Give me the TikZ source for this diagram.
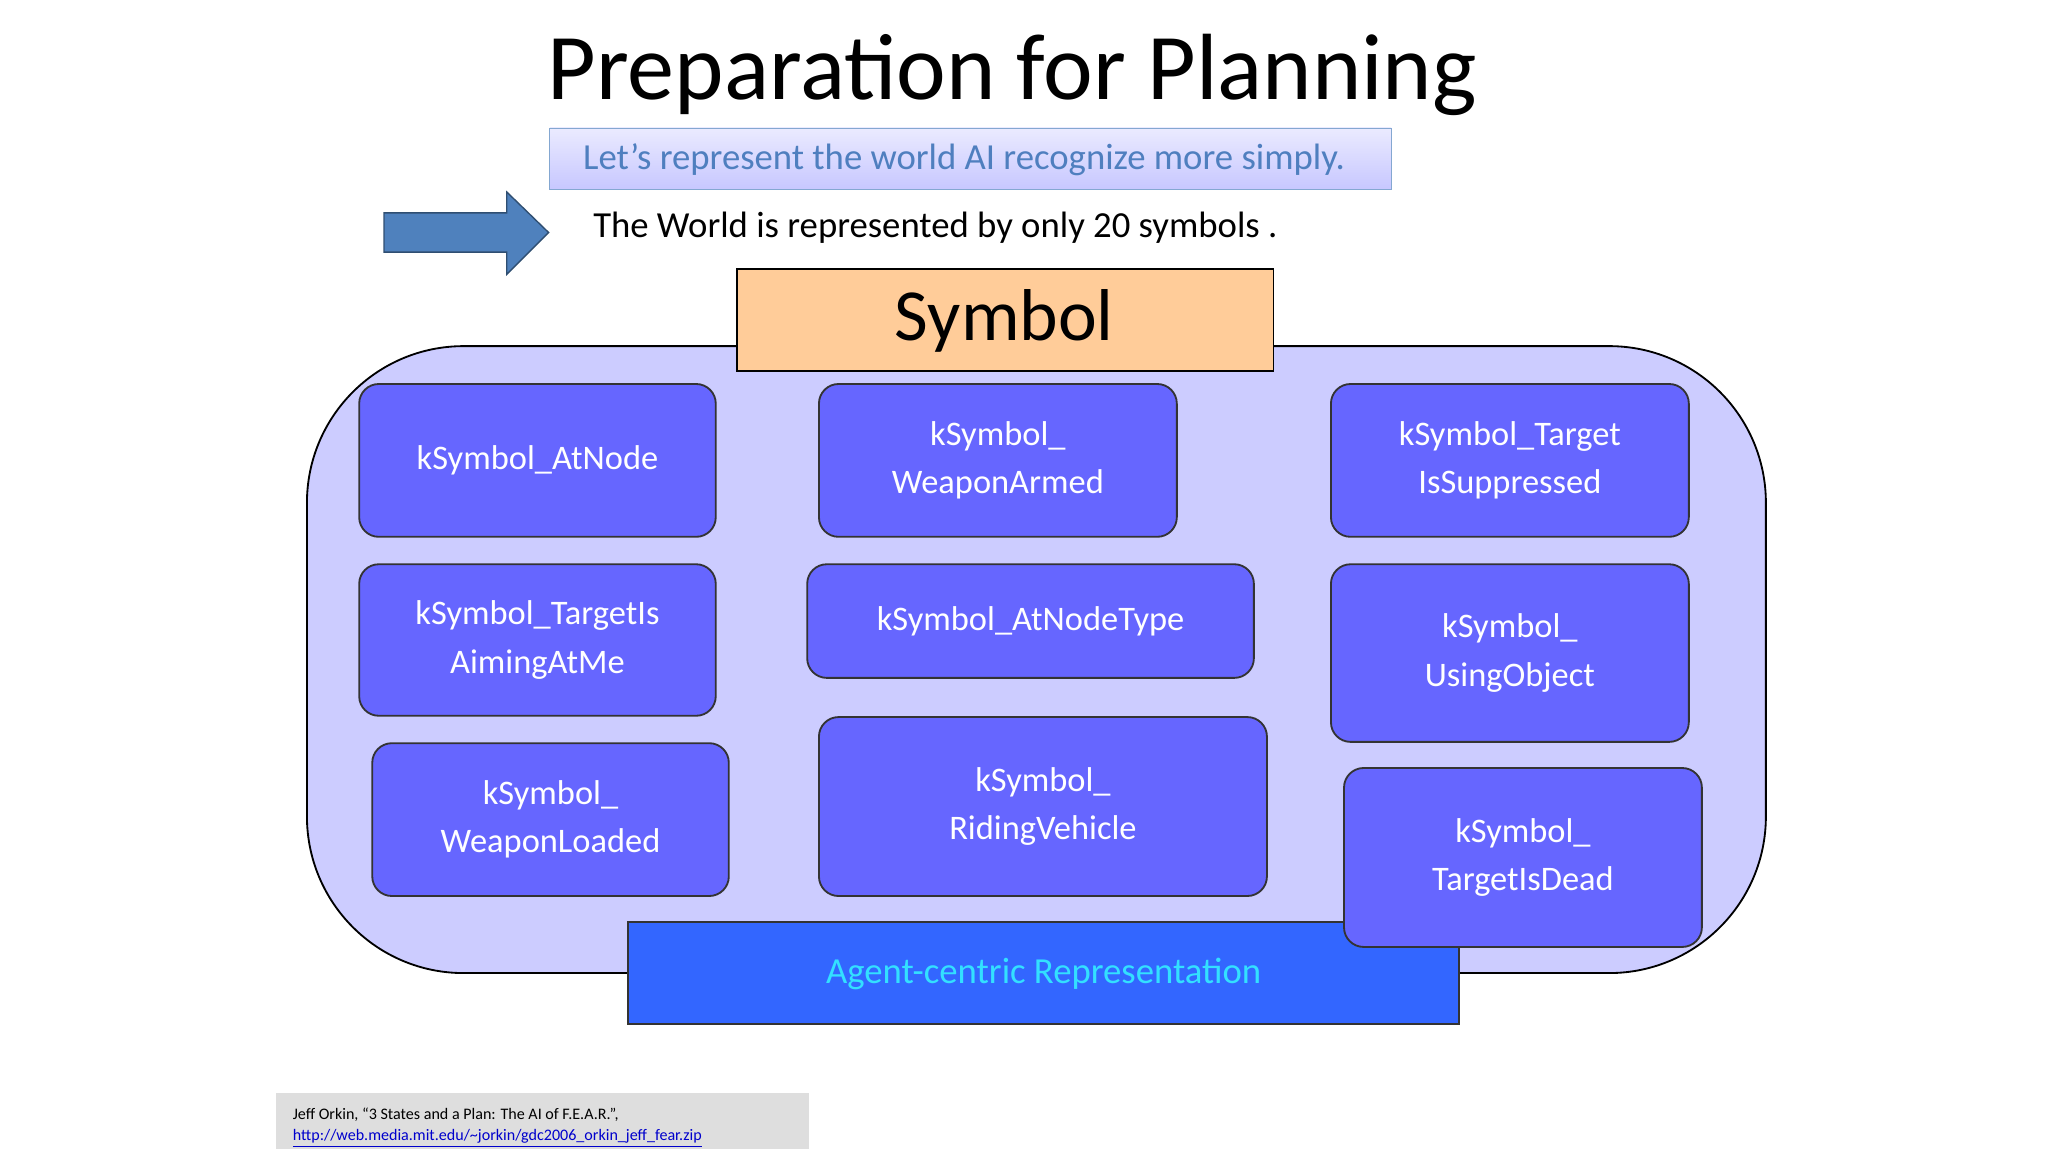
\documentclass[tikz,border=0pt]{standalone}
\usepackage{fontspec}
\setmainfont{Carlito}
\usetikzlibrary{shapes.arrows}
\definecolor{lav}{HTML}{CCCCFF}
\definecolor{sym}{HTML}{FFCC99}
\definecolor{kbox}{HTML}{6666FF}
\definecolor{agent}{HTML}{3366FF}
\definecolor{agtxt}{HTML}{33E0FF}
\definecolor{arr}{HTML}{4F81BD}
\definecolor{subtxt}{HTML}{4F7FBF}
\tikzset{
 kb/.style={draw=black!80, fill=kbox, rounded corners=0.3cm, line width=0.8pt},
 kt/.style={text=white, align=center, font=\fontsize{15}{21}\selectfont},
}
\newcommand{\kbx}[6]{\draw[kb] (#2,#3) rectangle (#4,#5); \node[kt] (#1) at ({(#2+#4)/2},{(#3+#5)/2}) {#6};}
\begin{document}
\begin{tikzpicture}[x=0.02cm,y=-0.02cm]
\useasboundingbox[fill=white] (0,0) rectangle (1568,882);
\node (title) at (775,57) {\fontsize{41}{45}\selectfont Preparation for Planning};
\draw[draw=arr!70, top color=blue!8, bottom color=blue!22] (421,98) rectangle (1065,145);
\node[text=subtxt] (sub) at (738,122) {\fontsize{16}{19}\selectfont Let’s represent the world AI recognize more simply.};
\fill[arr] (294,163) -- (388,163) -- (388,147) -- (420,178) -- (388,210) -- (388,193) -- (294,193) -- cycle;
\draw[arr!60!black,line width=0.6pt] (294,163) -- (388,163) -- (388,147) -- (420,178) -- (388,210) -- (388,193) -- (294,193) -- cycle;
\node[anchor=west] (world) at (448,174) {\fontsize{16}{19}\selectfont The World is represented by only 20 symbols .};
\draw[fill=lav, rounded corners=2.4cm, line width=0.8pt] (235,265) rectangle (1352,745);
\draw[fill=sym, line width=0.8pt] (564,206) rectangle (975,284);
\node (symbol) at (769,246) {\fontsize{32}{36}\selectfont Symbol};
\kbx{a}{275}{294}{548}{411}{kSymbol\_AtNode}
\kbx{b}{627}{294}{901}{411}{kSymbol\_\\WeaponArmed}
\kbx{c}{1019}{294}{1293}{411}{kSymbol\_Target\\IsSuppressed}
\kbx{d}{275}{432}{548}{548}{kSymbol\_TargetIs\\AimingAtMe}
\kbx{e}{618}{432}{960}{519}{kSymbol\_AtNodeType}
\kbx{f}{1019}{432}{1293}{568}{kSymbol\_\\UsingObject}
\kbx{g}{285}{569}{558}{686}{kSymbol\_\\WeaponLoaded}
\kbx{h}{627}{549}{970}{686}{kSymbol\_\\RidingVehicle}
\draw[fill=agent, draw=black!80, line width=0.8pt] (481,706) rectangle (1117,784);
\node[text=agtxt] (agent) at (799,746) {\fontsize{16}{19}\selectfont Agent-centric Representation};
\kbx{i}{1029}{588}{1303}{725}{kSymbol\_\\TargetIsDead}
\fill[black!13] (211,837) rectangle (619,880);
\node[anchor=north west, align=left, font=\fontsize{7}{9}\selectfont] (ref) at (218,842) {Jeff Orkin, “3 States and a Plan: The AI of F.E.A.R.",\\ \textcolor{blue!80!black}{\underline{http://web.media.mit.edu/\textasciitilde jorkin/gdc2006\_orkin\_jeff\_fear.zip}}};
\end{tikzpicture}
\end{document}
